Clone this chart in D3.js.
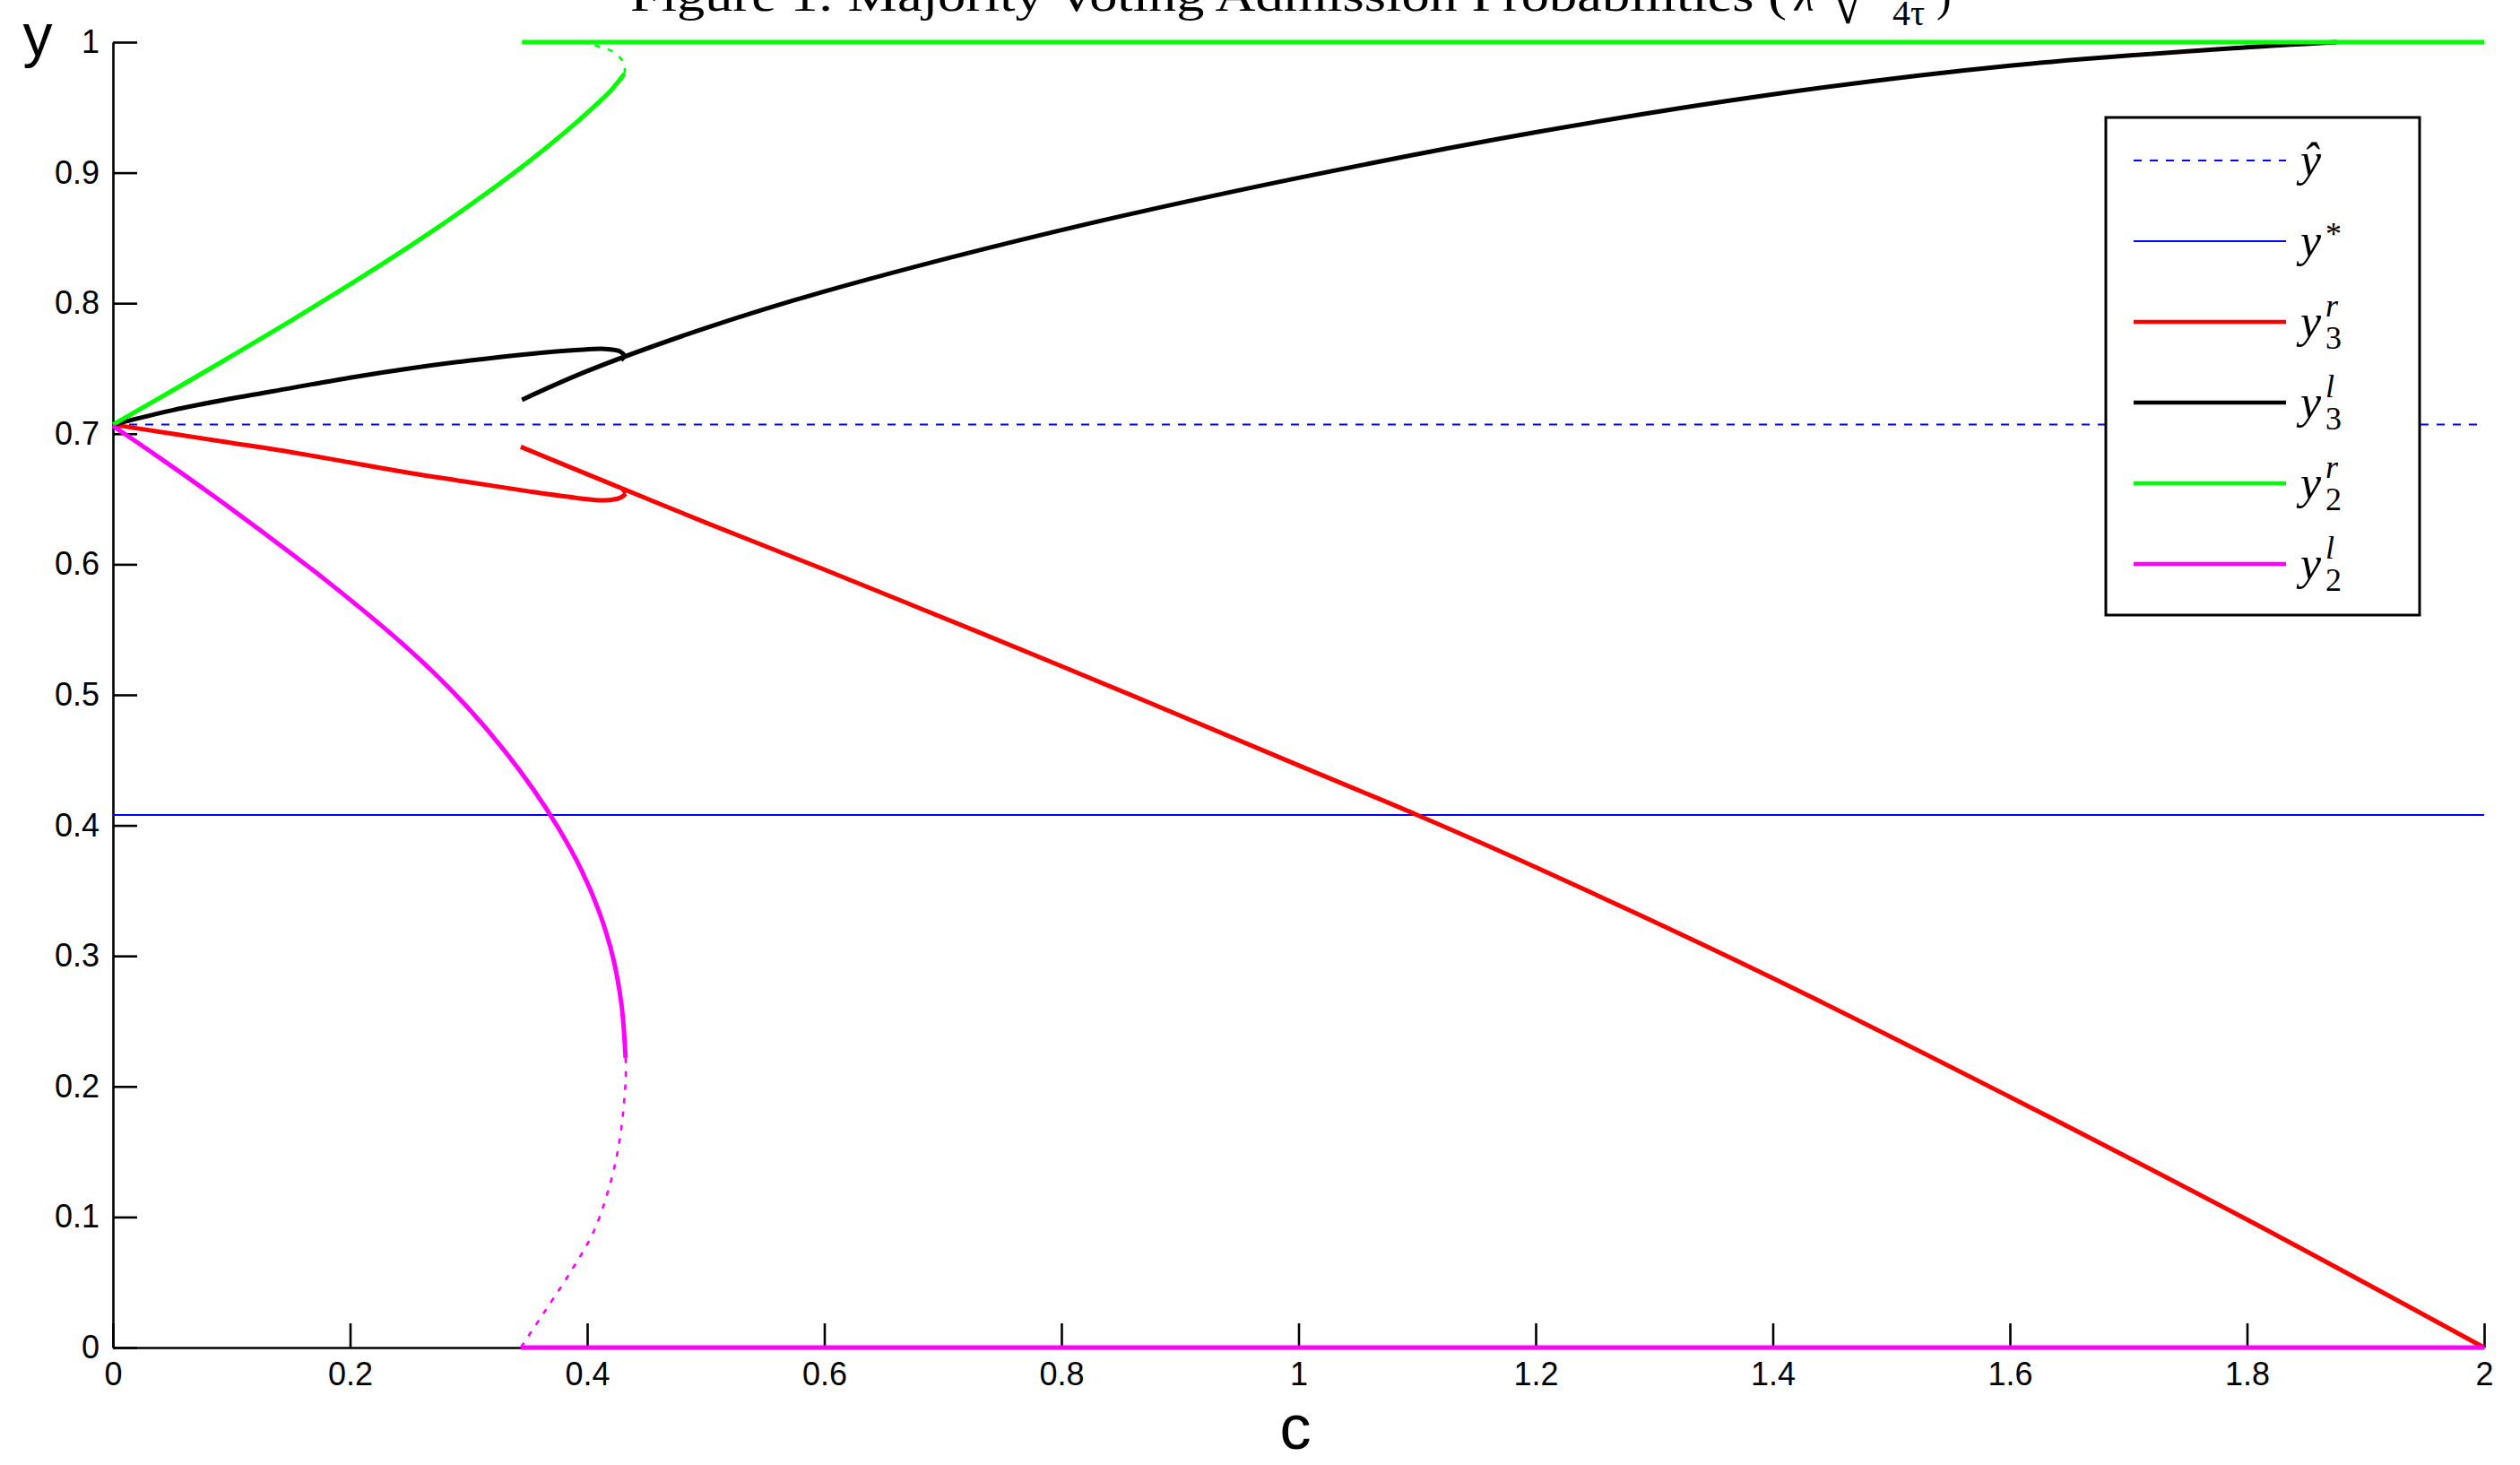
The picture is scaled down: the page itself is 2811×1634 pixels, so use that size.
<!DOCTYPE html>
<html>
<head>
<meta charset="utf-8">
<script src="https://cdn.jsdelivr.net/npm/d3@7"></script>
<style>
  html, body { margin: 0; padding: 0; background: #fff; }
  svg { display: block; }
</style>
</head>
<body>
<div id="chart"></div>
<script>
// axis ticks
const xTicks = [0, 0.2, 0.4, 0.6, 0.8, 1, 1.2, 1.4, 1.6, 1.8, 2];
const xTickLabels = ["0", "0.2", "0.4", "0.6", "0.8", "1", "1.2", "1.4", "1.6", "1.8", "2"];
const yTicks = [0, 0.1, 0.2, 0.3, 0.4, 0.5, 0.6, 0.7, 0.8, 0.9, 1];
const yTickLabels = ["0", "0.1", "0.2", "0.3", "0.4", "0.5", "0.6", "0.7", "0.8", "0.9", "1"];

// reference levels
const yHat = 0.7071;
const yStar = 0.408;

// y3^r (red)
const y3rLow = [[0, 0.707], [0.05, 0.700], [0.1, 0.693], [0.15, 0.686], [0.2, 0.678], [0.25, 0.670],
  [0.3, 0.663], [0.35, 0.656], [0.39, 0.651], [0.415, 0.649], [0.428, 0.651], [0.4325, 0.654]];
const y3rLowDots = [[0.4325, 0.654], [0.429, 0.657], [0.426, 0.660]];
const y3rHigh = [[0.344, 0.690], [0.4, 0.669], [0.5, 0.632], [0.6, 0.596], [0.8, 0.522],
  [1.0, 0.446], [1.1, 0.408], [1.2, 0.368], [1.4, 0.283], [1.6, 0.192], [1.8, 0.098], [2.0, 0.0]];

// y3^l (black)
const y3lLow = [[0, 0.707], [0.05, 0.718], [0.1, 0.727], [0.15, 0.735], [0.2, 0.743], [0.25, 0.750],
  [0.3, 0.756], [0.35, 0.761], [0.39, 0.764], [0.415, 0.765], [0.428, 0.763], [0.432, 0.759]];
const y3lLowDots = [[0.432, 0.759], [0.430, 0.7566], [0.428, 0.755]];
const y3lHigh = [[0.345, 0.726], [0.4, 0.748], [0.5, 0.781], [0.6, 0.809], [0.8, 0.856],
  [1.0, 0.896], [1.2, 0.931], [1.4, 0.960], [1.6, 0.982], [1.8, 0.996], [1.876, 1.0]];

// y2^r (green)
const y2rLow = [[0, 0.707], [0.05, 0.733], [0.1, 0.7595], [0.15, 0.7865], [0.2, 0.8145], [0.25, 0.8435],
  [0.3, 0.8745], [0.35, 0.908], [0.38, 0.930], [0.405, 0.950], [0.42, 0.963], [0.4315, 0.976]];
const y2rDots = [[0.4315, 0.976], [0.431, 0.984], [0.421, 0.993], [0.404, 0.998], [0.395, 1.0]];
const y2rTop = [[0.345, 1.0], [2.0, 1.0]];

// y2^l (magenta)
const y2lHigh = [[0, 0.706], [0.03, 0.6875], [0.06, 0.6685], [0.09, 0.649], [0.12, 0.629], [0.15, 0.6085],
  [0.18, 0.5875], [0.21, 0.5655], [0.24, 0.5425], [0.27, 0.5175], [0.30, 0.4895], [0.33, 0.4575],
  [0.355, 0.427], [0.375, 0.399], [0.395, 0.366], [0.41, 0.334], [0.422, 0.298], [0.429, 0.262],
  [0.4324, 0.222]];
const y2lDots = [[0.4324, 0.222], [0.4324, 0.204], [0.428, 0.163], [0.421, 0.131], [0.406, 0.090],
  [0.386, 0.058], [0.363, 0.026], [0.344, 0.0]];
const y2lBottom = [[0.344, 0.0], [2.0, 0.0]];

const W = 2811, H = 1634;
const margin = { top: 47, right: 40, bottom: 131, left: 126 };

const svg = d3.select("#chart").append("svg")
  .attr("width", W)
  .attr("height", H)
  .attr("viewBox", [0, 0, W, H]);

svg.append("rect").attr("width", W).attr("height", H).attr("fill", "#fff");

const x = d3.scaleLinear().domain([0, 2]).range([margin.left, W - margin.right]);
const y = d3.scaleLinear().domain([0, 1]).range([H - margin.bottom, margin.top]);

// axes (ticks point inward, like matlab)
const xAxis = svg.append("g")
  .attr("transform", `translate(0,${y(0)})`)
  .call(d3.axisBottom(x).tickValues(xTicks).tickFormat((d, i) => xTickLabels[i])
    .tickSizeInner(-27).tickSizeOuter(0).tickPadding(16));

const yAxis = svg.append("g")
  .attr("transform", `translate(${x(0)},0)`)
  .call(d3.axisLeft(y).tickValues(yTicks).tickFormat((d, i) => yTickLabels[i])
    .tickSizeInner(-27).tickSizeOuter(0).tickPadding(15));

[xAxis, yAxis].forEach(g => {
  g.select(".domain").attr("stroke", "#000").attr("stroke-width", 2.6);
  g.selectAll(".tick line").attr("stroke", "#000").attr("stroke-width", 2.6);
  g.selectAll(".tick text")
    .attr("fill", "#000")
    .attr("font-family", "Liberation Sans, Arial, sans-serif")
    .attr("font-size", 36);
});

// axis labels
svg.append("text")
  .attr("x", 42).attr("y", 62)
  .attr("text-anchor", "middle")
  .attr("font-family", "Liberation Sans, Arial, sans-serif")
  .attr("font-size", 66)
  .text("y");

svg.append("text")
  .attr("x", 1445).attr("y", 1616)
  .attr("text-anchor", "middle")
  .attr("font-family", "Liberation Sans, Arial, sans-serif")
  .attr("font-size", 70)
  .text("c");

// curves
const line = d3.line()
  .x(d => x(d[0]))
  .y(d => y(d[1]))
  .curve(d3.curveCatmullRom.alpha(0.5));

const series = [
  { key: "yhat", color: "#0000ff", width: 2, dash: "9,9", segs: [[[0, yHat], [2, yHat]]], dots: [] },
  { key: "ystar", color: "#0000ff", width: 2, dash: null, segs: [[[0, yStar], [2, yStar]]], dots: [] },
  { key: "y3r", color: "#ff0000", width: 5, dash: null, segs: [y3rLow, y3rHigh], dots: [y3rLowDots] },
  { key: "y3l", color: "#000000", width: 5, dash: null, segs: [y3lLow, y3lHigh], dots: [y3lLowDots] },
  { key: "y2r", color: "#00ff00", width: 5, dash: null, segs: [y2rLow, y2rTop], dots: [y2rDots] },
  { key: "y2l", color: "#ff00ff", width: 5, dash: null, segs: [y2lHigh, y2lBottom], dots: [y2lDots] }
];

const plot = svg.append("g");
series.forEach(s => {
  s.segs.forEach(seg => {
    plot.append("path")
      .attr("d", line(seg))
      .attr("fill", "none")
      .attr("stroke", s.color)
      .attr("stroke-width", s.width)
      .attr("stroke-dasharray", s.dash)
      .attr("stroke-linejoin", "round");
  });
  s.dots.forEach(seg => {
    plot.append("path")
      .attr("d", line(seg))
      .attr("fill", "none")
      .attr("stroke", s.color)
      .attr("stroke-width", 2.6)
      .attr("stroke-dasharray", "6,9");
  });
});

// legend
const legend = svg.append("g");
legend.append("rect")
  .attr("x", 2349).attr("y", 131)
  .attr("width", 350).attr("height", 555)
  .attr("fill", "#fff")
  .attr("stroke", "#000")
  .attr("stroke-width", 3);

const legendLabels = [
  { base: "\u0177", sup: null, sub: null },
  { base: "y", sup: "*", sub: null },
  { base: "y", sup: "r", sub: "3" },
  { base: "y", sup: "l", sub: "3" },
  { base: "y", sup: "r", sub: "2" },
  { base: "y", sup: "l", sub: "2" }
];

series.forEach((s, i) => {
  const ly = 179 + i * 90;
  legend.append("line")
    .attr("x1", 2380).attr("x2", 2550)
    .attr("y1", ly).attr("y2", ly)
    .attr("stroke", s.color)
    .attr("stroke-width", s.width === 2 ? 2 : 4.5)
    .attr("stroke-dasharray", s.dash);

  const lab = legendLabels[i];
  const t = legend.append("g")
    .attr("font-family", "Liberation Serif, Times New Roman, serif")
    .attr("font-style", "italic")
    .attr("fill", "#000");
  t.append("text").attr("x", 2566).attr("y", ly + 17).attr("font-size", 52).text(lab.base);
  if (lab.sup) {
    t.append("text").attr("x", 2594).attr("y", ly + (lab.sup === "*" ? 4 : -6))
      .attr("font-size", 36).attr("font-style", lab.sup === "*" ? "normal" : "italic").text(lab.sup);
  }
  if (lab.sub) {
    t.append("text").attr("x", 2594).attr("y", ly + 30)
      .attr("font-size", 36).attr("font-style", "normal").text(lab.sub);
  }
});

// title (its top is cut off in the original figure as well)
const title = svg.append("g")
  .attr("font-family", "Liberation Serif, Times New Roman, serif")
  .attr("fill", "#000");
title.append("text")
  .attr("x", 703).attr("y", 12)
  .attr("font-size", 50)
  .attr("textLength", 1290)
  .attr("lengthAdjust", "spacingAndGlyphs")
  .text("Figure 1: Majority Voting Admission Probabilities (");
title.append("text")
  .attr("x", 2002).attr("y", 12)
  .attr("font-size", 50).attr("font-style", "italic")
  .text("\u03bb");
title.append("text")
  .attr("x", 2043).attr("y", 26)
  .attr("font-size", 66)
  .text("\u221a");
title.append("line")
  .attr("x1", 2080).attr("x2", 2158).attr("y1", -2).attr("y2", -2)
  .attr("stroke", "#000").attr("stroke-width", 2);
title.append("text")
  .attr("x", 2129).attr("y", 28)
  .attr("text-anchor", "middle")
  .attr("font-size", 40)
  .text("4\u03c4");
title.append("text")
  .attr("x", 2160).attr("y", 12)
  .attr("font-size", 50)
  .text(")");
</script>
</body>
</html>
